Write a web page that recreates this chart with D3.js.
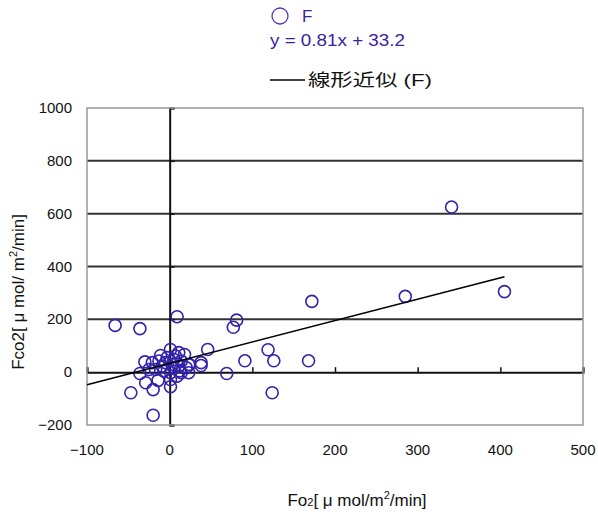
<!DOCTYPE html>
<html>
<head>
<meta charset="utf-8">
<script src="https://cdn.jsdelivr.net/npm/d3@7"></script>
<style>
  body { margin: 0; background: #fff; }
  text { font-family: "Liberation Sans", "Noto Sans CJK JP", sans-serif; }
</style>
</head>
<body>
<div id="chart"></div>
<script>
(function () {

  // F series: O2 flux vs CO2 flux
  var fo2 = [341, 405, 285, 172, 81, 77, 46, 119, 126, 91, 168, 69, 124, 38, 38, 9, 23, 23,
             -66, -36, -47, -20, -29, -20, 1, -14, -36, -30, 1, 11, 24,
             -11, -21, -13, -5, 5, 14, 20, 14, 9, 1, -7, -17, -25, 18, 7, -9, 5, 11, 1, 12, 3, -3]
  var fco2 = [625, 305, 287, 268, 197, 170, 86, 85, 43, 43, 43, -5, -78, 36, 25, 210, 28, -2,
              177, 165, -78, -163, -40, -66, -55, -31, -5, 39, 86, 74, 29,
              63, 36, 42, 36, 48, 42, 17, -2, -15, -2, 4, 10, 10, 67, 61, 23, 17, 23, -28, 5, 30, 55]

  var slope = 0.81, intercept = 33.2
  var fitRange = [-100, 405]

  var xTicks = [-100, 0, 100, 200, 300, 400, 500]
  var yTicks = [-200, 0, 200, 400, 600, 800, 1000]
  var gridValues = [200, 400, 600, 800]

  var width = 598, height = 515
  var margin = { top: 108, right: 15, bottom: 90, left: 87 }
  var w = 583 - margin.left,
      h = 425 - margin.top

  var svg = d3.select("#chart").append("svg")
      .attr("width", width)
      .attr("height", height)

  var x = d3.scaleLinear().domain([-100, 500]).range([0, w])
  var y = d3.scaleLinear().domain([-200, 1000]).range([h, 0])

  var g = svg.append("g")
      .attr("transform", "translate(" + margin.left + "," + margin.top + ")")

  // horizontal gridlines
  g.selectAll(".grid")
    .data(gridValues)
    .enter().append("line")
    .attr("x1", 0).attr("x2", w)
    .attr("y1", function(d) { return y(d) })
    .attr("y2", function(d) { return y(d) })
    .attr("stroke", "#333")
    .attr("stroke-width", 2)

  // axes through zero
  var xAxis = d3.axisTop(x).tickValues(xTicks).tickSize(5).tickFormat("")
  g.append("g")
    .attr("transform", "translate(0," + y(0) + ")")
    .call(xAxis)
    .call(function(s) {
      s.select(".domain").attr("stroke", "#111").attr("stroke-width", 2)
      s.selectAll(".tick line").attr("stroke", "#111").attr("stroke-width", 1.5)
    })

  var yAxis = d3.axisRight(y).tickValues(yTicks).tickSize(5).tickFormat("")
  g.append("g")
    .attr("transform", "translate(" + x(0) + ",0)")
    .call(yAxis)
    .call(function(s) {
      s.select(".domain").attr("stroke", "#111").attr("stroke-width", 2)
      s.selectAll(".tick line").attr("stroke", "#111").attr("stroke-width", 1.5)
    })

  // plot border
  g.append("rect")
    .attr("width", w).attr("height", h)
    .attr("fill", "none")
    .attr("stroke", "#999")
    .attr("stroke-width", 1.5)

  // tick labels
  g.selectAll(".xlab")
    .data(xTicks)
    .enter().append("text")
    .attr("x", function(d) { return x(d) })
    .attr("y", h + 30)
    .attr("text-anchor", "middle")
    .attr("font-size", 15)
    .attr("fill", "#111")
    .text(function(d) { return d < 0 ? "\u2212" + (-d) : d })

  g.selectAll(".ylab")
    .data(yTicks)
    .enter().append("text")
    .attr("x", -15)
    .attr("y", function(d) { return y(d) + 5 })
    .attr("text-anchor", "end")
    .attr("font-size", 15)
    .attr("fill", "#111")
    .text(function(d) { return d < 0 ? "\u2212" + (-d) : d })

  // points
  var pts = d3.range(fo2.length)
  g.selectAll(".pt")
    .data(pts)
    .enter().append("circle")
    .attr("cx", function(i) { return x(fo2[i]) })
    .attr("cy", function(i) { return y(fco2[i]) })
    .attr("r", 6)
    .attr("fill", "none")
    .attr("stroke", "#3322aa")
    .attr("stroke-width", 1.6)

  // linear fit
  g.append("line")
    .attr("x1", x(fitRange[0])).attr("y1", y(slope * fitRange[0] + intercept))
    .attr("x2", x(fitRange[1])).attr("y2", y(slope * fitRange[1] + intercept))
    .attr("stroke", "#000")
    .attr("stroke-width", 1.5)

  // legend
  svg.append("circle")
    .attr("cx", 280).attr("cy", 16).attr("r", 8)
    .attr("fill", "none").attr("stroke", "#5533bb").attr("stroke-width", 1.3)
  svg.append("text")
    .attr("x", 302).attr("y", 22)
    .attr("font-size", 17).attr("fill", "#3a22a0")
    .text("F")
  svg.append("text")
    .attr("x", 270).attr("y", 46)
    .attr("font-size", 17).attr("fill", "#3a22a0")
    .attr("textLength", 135).attr("lengthAdjust", "spacingAndGlyphs")
    .text("y = 0.81x + 33.2")
  svg.append("line")
    .attr("x1", 270).attr("x2", 305).attr("y1", 80).attr("y2", 80)
    .attr("stroke", "#000").attr("stroke-width", 1.3)
  svg.append("text")
    .attr("x", 308).attr("y", 86)
    .attr("font-size", 17).attr("fill", "#111")
    .attr("font-family", "Noto Sans CJK JP")
    .attr("textLength", 124).attr("lengthAdjust", "spacingAndGlyphs")
    .text("線形近似 (F)")

  // axis titles
  var xt = svg.append("text")
    .attr("x", 357).attr("y", 506)
    .attr("text-anchor", "middle")
    .attr("font-size", 17).attr("fill", "#111")
  xt.append("tspan").text("Fo")
  xt.append("tspan").attr("font-size", 11).text("2")
  xt.append("tspan").text("[ μ mol/m")
  xt.append("tspan").attr("font-size", 11).attr("dy", -7).text("2")
  xt.append("tspan").attr("dy", 7).text("/min]")

  var yt = svg.append("text")
    .attr("transform", "translate(24,292) rotate(-90)")
    .attr("text-anchor", "middle")
    .attr("font-size", 17).attr("fill", "#111")
  yt.append("tspan").text("Fco2[ μ mol/ m")
  yt.append("tspan").attr("font-size", 11).attr("dy", -7).text("2")
  yt.append("tspan").attr("dy", 7).text("/min]")

})()
</script>
</body>
</html>
